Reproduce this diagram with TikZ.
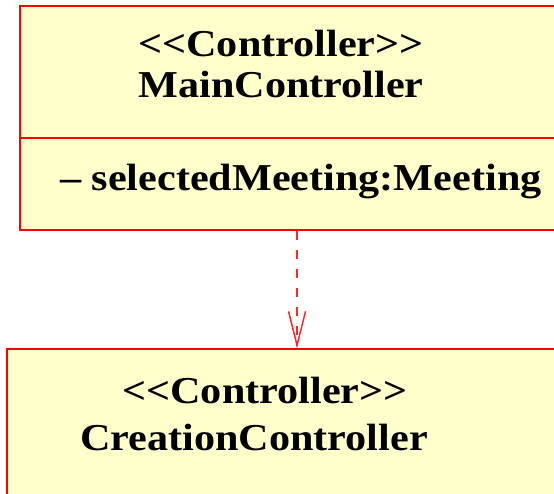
\documentclass[tikz,border=0pt]{standalone}
\usepackage{fontspec}
\newfontfamily\umlfont{Liberation Serif}[FakeStretch=1.11]
\usetikzlibrary{
	arrows.meta,
	calc
}
\definecolor{UFill}{HTML}{FFFFCC}
\colorlet{ULine}{red}
\tikzset{
	classbox/.style={draw=ULine, fill=UFill, line width=1.1pt, inner sep=0pt},
	umltext/.style={inner sep=0pt, anchor=base, font=\umlfont\bfseries\fontsize{38}{42}\selectfont},
	depend/.style={draw=ULine!85, line width=1.5pt, dash pattern=on 9pt off 10pt,
		-{Straight Barb[length=34pt, width=17pt, line width=1.5pt]}}
}
\begin{document}
\begin{tikzpicture}[x=1pt, y=1pt, line cap=butt, line join=miter]
		\clip (0,0) rectangle (554,493);
		
		% -- MainController class --------------------------------------
		\node[classbox, minimum width=554pt, minimum height=224pt] (main) at (297,375) {};
		\draw[ULine, line width=1.1pt] (main.west |- 0,355) -- (main.east |- 0,355);
		\node[umltext] (mainstereo) at (281,436) {<<Controller>>};
		\node[umltext] (mainname)   at (281,395) {MainController};
		\node[umltext, anchor=base west] (mainattr) at (60,302) {– selectedMeeting:Meeting};
		
		% -- CreationController class ----------------------------------
		\node[classbox, minimum width=580pt, minimum height=200pt] (creation) at (297,44) {};
		\node[umltext] (creastereo) at (265,90) {<<Controller>>};
		\node[umltext] (creaname)   at (254,43) {CreationController};
		
		% -- dependency ------------------------------------------------
		\draw[depend] (main.south) -- (creation.north);
		
	\end{tikzpicture}
\end{document}
